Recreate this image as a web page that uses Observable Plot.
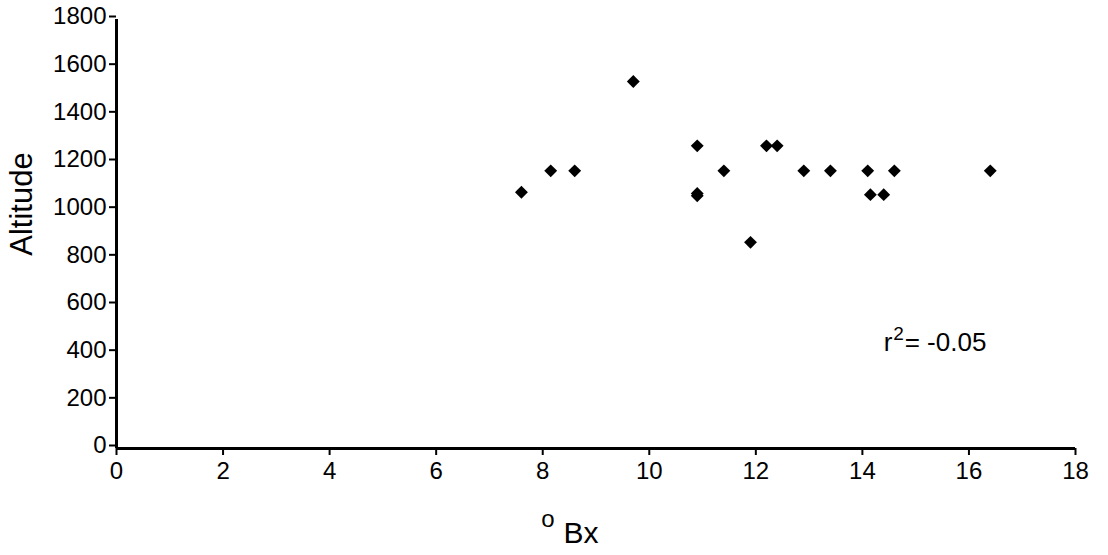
<!DOCTYPE html>
<html>
<head>
<meta charset="utf-8">
<script src="https://cdn.jsdelivr.net/npm/d3@7"></script>
<script src="https://cdn.jsdelivr.net/npm/@observablehq/plot@0.6"></script>
<style>
  html, body { margin: 0; padding: 0; background: #fff; }
  #chart svg { display: block; }
</style>
</head>
<body>
<div id="chart"></div>
<script>
const bx       = [7.6, 8.15, 8.6, 9.7, 10.9, 10.9, 10.9, 11.4, 11.9, 12.2, 12.4, 12.9, 13.4, 14.1, 14.15, 14.4, 14.6, 16.4];
const altitude = [1075, 1165, 1165, 1540, 1270, 1070, 1060, 1165, 865, 1270, 1270, 1165, 1165, 1165, 1065, 1065, 1165, 1165];
const xTicks = [0, 2, 4, 6, 8, 10, 12, 14, 16, 18];
const yTicks = [0, 200, 400, 600, 800, 1000, 1200, 1400, 1600, 1800];
const r2Pos = {x: 14.4, y: 410};

const data = bx.map((x, i) => ({x, y: altitude[i]}));
const fmt = d => String(d);

const chart = Plot.plot({
  width: 1108,
  height: 555,
  marginLeft: 116,
  marginRight: 33,
  marginTop: 19,
  marginBottom: 107,
  style: {fontFamily: "'Liberation Sans', Arial, sans-serif", fontSize: "24px", color: "#000", background: "#fff"},
  x: {domain: [0, 18], ticks: xTicks},
  y: {domain: [0, 1800], ticks: yTicks},
  marks: [
    Plot.axisY({ticks: yTicks, tickFormat: fmt, tickSize: 7, tickPadding: 3, strokeWidth: 2, label: null, fontSize: 24, dy: -3}),
    Plot.axisX({ticks: xTicks, tickFormat: fmt, tickSize: 7, tickPadding: 6, strokeWidth: 2, label: null, fontSize: 24}),
    Plot.ruleX([0], {stroke: "#000", strokeWidth: 3}),
    Plot.ruleY([0], {stroke: "#000", strokeWidth: 3}),
    Plot.dot(data, {x: "x", y: "y", symbol: "diamond2", r: 5.8, fill: "#000", stroke: "none"}),
    Plot.text(["r"], {x: () => r2Pos.x, y: () => r2Pos.y, text: d => d, textAnchor: "start", lineAnchor: "bottom", fontSize: 26}),
    Plot.text(["2"], {x: () => r2Pos.x, y: () => r2Pos.y, text: d => d, textAnchor: "start", lineAnchor: "bottom", fontSize: 19, dx: 9.5, dy: -11}),
    Plot.text(["= -0.05"], {x: () => r2Pos.x, y: () => r2Pos.y, text: d => d, textAnchor: "start", lineAnchor: "bottom", fontSize: 26, dx: 21}),
    Plot.text(["Altitude"], {frameAnchor: "left", text: d => d, rotate: -90, textAnchor: "middle", dx: -94, dy: -30, fontSize: 31}),
    Plot.text(["Bx"], {frameAnchor: "bottom", text: d => d, dx: -15, dy: 94, fontSize: 30}),
    Plot.text(["o"], {frameAnchor: "bottom", text: d => d, dx: -48, dy: 78, fontSize: 24})
  ]
});
document.getElementById("chart").appendChild(chart);
</script>
</body>
</html>
